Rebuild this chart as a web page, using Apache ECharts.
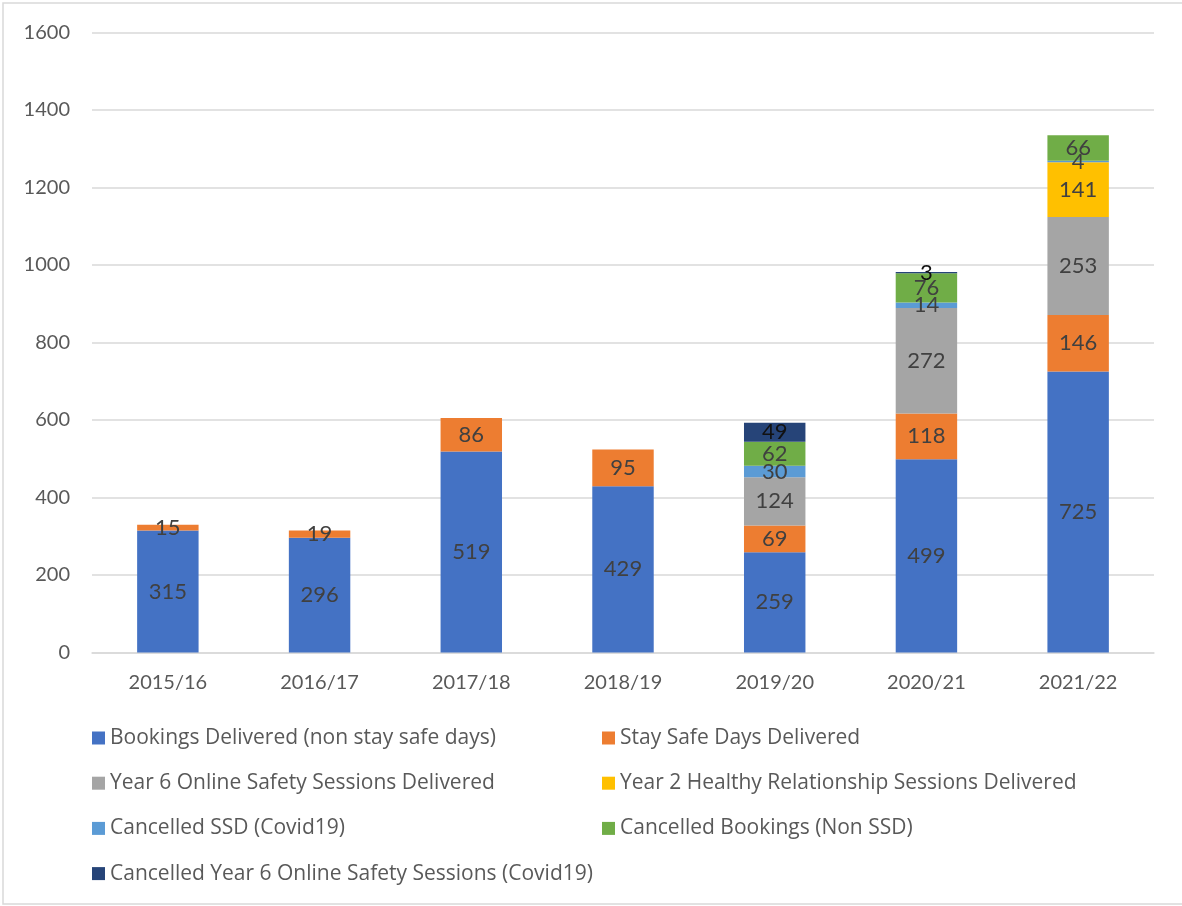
<!DOCTYPE html>
<html>
<head>
<meta charset="utf-8">
<script src="https://cdn.jsdelivr.net/npm/echarts@6/dist/echarts.min.js"></script>
<style>
html,body{margin:0;padding:0;background:#fff;}
#chart{width:1182px;height:906px;}
</style>
</head>
<body>
<div id="chart"></div>
<script>
const categories = ['2015/16','2016/17','2017/18','2018/19','2019/20','2020/21','2021/22'];
const bookingsDelivered = [315, 296, 519, 429, 259, 499, 725];
const staySafeDays = [15, 19, 86, 95, 69, 118, 146];
const year6Online = [null, null, null, null, 124, 272, 253];
const year2Healthy = [null, null, null, null, null, null, 141];
const cancelledSSD = [null, null, null, null, 30, 14, 4];
const cancelledBookings = [null, null, null, null, 62, 76, 66];
const cancelledYear6 = [null, null, null, null, 49, 3, null];
const yTicks = [0, 200, 400, 600, 800, 1000, 1200, 1400, 1600];

const seriesNames = [
  'Bookings Delivered (non stay safe days)',
  'Stay Safe Days Delivered',
  'Year 6 Online Safety Sessions Delivered',
  'Year 2 Healthy Relationship Sessions Delivered',
  'Cancelled SSD (Covid19)',
  'Cancelled Bookings (Non SSD)',
  'Cancelled Year 6 Online Safety Sessions (Covid19)'
];
const seriesData = [bookingsDelivered, staySafeDays, year6Online, year2Healthy, cancelledSSD, cancelledBookings, cancelledYear6];
const colors = ['#4472C4','#ED7D31','#A5A5A5','#FFC000','#5B9BD5','#70AD47','#264478'];
const labelColors = ['#404040','#404040','#404040','#404040','#404040','#404040','#111111'];

const FONT = 'Lato';
const LEGEND_FONT = 'Open Sans';
const chart = echarts.init(document.getElementById('chart'));

const legendCommon = {
  orient: 'vertical',
  padding: 0,
  itemWidth: 13,
  itemHeight: 13,
  itemGap: 24.2,
  icon: 'rect',
  textStyle: {fontFamily: LEGEND_FONT, fontSize: 21, color: '#595959', lineHeight: 20},
  selectedMode: false
};

chart.setOption({
  animation: false,
  color: colors,
  graphic: [{
    type: 'rect',
    shape: {x: 3, y: 3, width: 1190, height: 901},
    style: {fill: 'none', stroke: '#d9d9d9', lineWidth: 1.5},
    silent: true
  }],
  grid: {left: 92, right: 28, top: 32.5, height: 620},
  legend: [
    Object.assign({}, legendCommon, {left: 92, top: 727.5, data: [seriesNames[0], seriesNames[2], seriesNames[4], seriesNames[6]]}),
    Object.assign({}, legendCommon, {left: 602, top: 727.5, data: [seriesNames[1], seriesNames[3], seriesNames[5]]})
  ],
  xAxis: {
    type: 'category',
    data: categories,
    axisTick: {show: false},
    axisLine: {lineStyle: {color: '#d9d9d9', width: 1.5}},
    axisLabel: {fontFamily: FONT, fontSize: 20, color: '#595959', margin: 20}
  },
  yAxis: {
    type: 'value',
    min: yTicks[0],
    max: yTicks[yTicks.length-1],
    interval: 200,
    axisLine: {show: false},
    axisTick: {show: false},
    splitLine: {lineStyle: {color: '#d9d9d9', width: 1.5}},
    axisLabel: {fontFamily: FONT, fontSize: 20, color: '#595959', margin: 22, formatter: v => String(v)}
  },
  series: seriesNames.map((name, i) => ({
    name: name,
    type: 'bar',
    stack: 'total',
    data: seriesData[i],
    barCategoryGap: '59.5%',
    itemStyle: {color: colors[i]},
    label: {
      show: true,
      position: 'inside',
      fontFamily: FONT,
      fontSize: 22,
      color: labelColors[i]
    }
  }))
});
</script>
</body>
</html>
